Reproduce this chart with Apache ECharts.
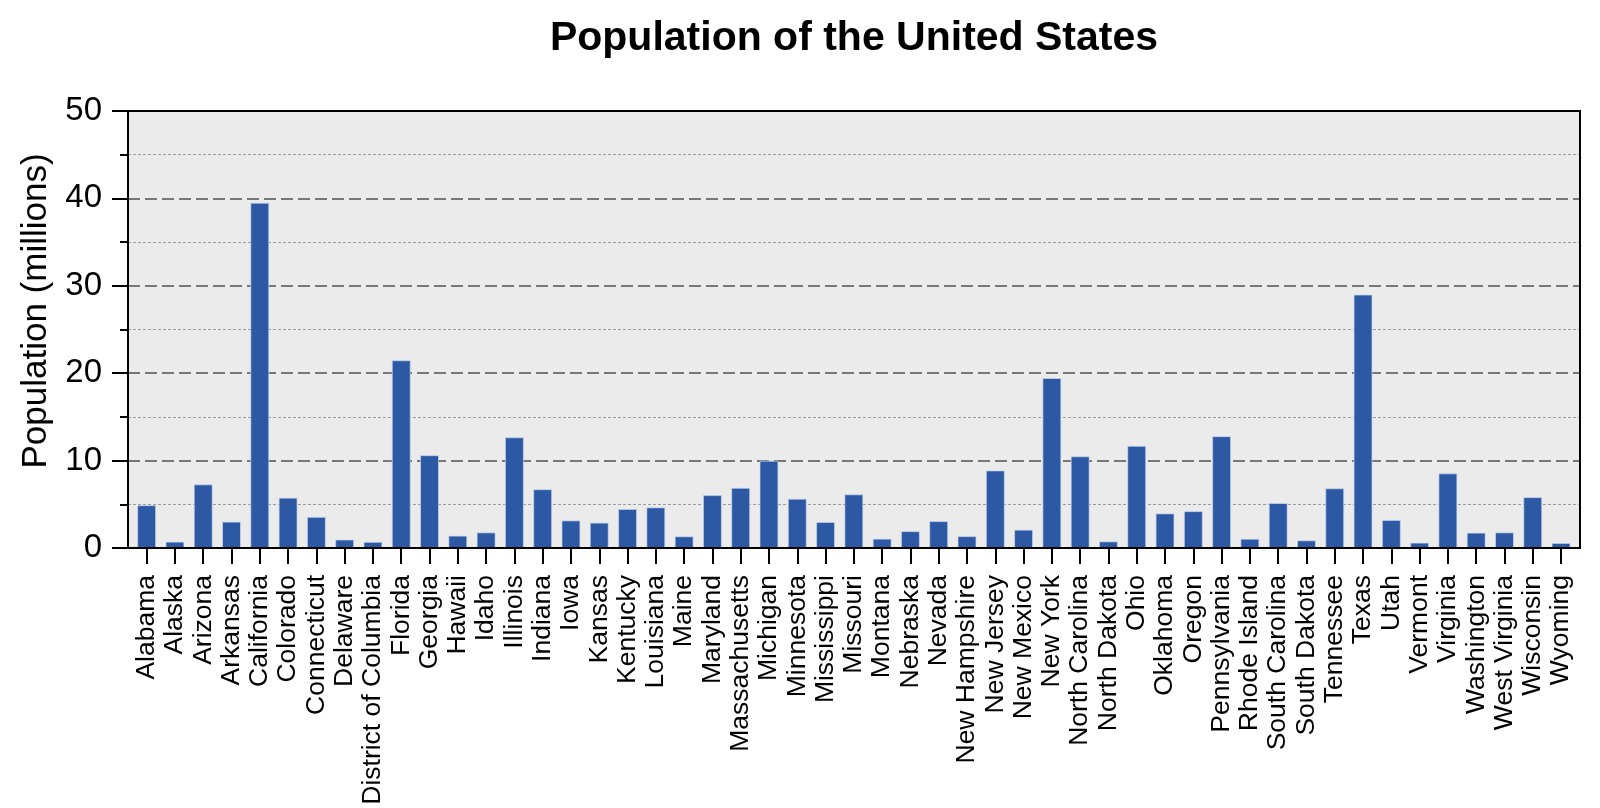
<!DOCTYPE html>
<html>
<head>
<meta charset="utf-8">
<script src="https://cdn.jsdelivr.net/npm/echarts@6/dist/echarts.min.js"></script>
<style>
html,body{margin:0;padding:0;background:#ffffff;}
#chart{width:1600px;height:808px;}
</style>
</head>
<body>
<div id="chart"></div>
<script>
const chartTitle = 'Population of the United States';
const yAxisTitle = 'Population (millions)';

const states = [
  'Alabama','Alaska','Arizona','Arkansas','California','Colorado','Connecticut','Delaware',
  'District of Columbia','Florida','Georgia','Hawaii','Idaho','Illinois','Indiana','Iowa',
  'Kansas','Kentucky','Louisiana','Maine','Maryland','Massachusetts','Michigan','Minnesota',
  'Mississippi','Missouri','Montana','Nebraska','Nevada','New Hampshire','New Jersey','New Mexico',
  'New York','North Carolina','North Dakota','Ohio','Oklahoma','Oregon','Pennsylvania','Rhode Island',
  'South Carolina','South Dakota','Tennessee','Texas','Utah','Vermont','Virginia','Washington',
  'West Virginia','Wisconsin','Wyoming'
];

const populationMillions = [
  4.90, 0.73, 7.28, 3.02, 39.51, 5.76, 3.57, 0.97,
  0.71, 21.48, 10.62, 1.42, 1.79, 12.67, 6.73, 3.16,
  2.91, 4.47, 4.65, 1.34, 6.05, 6.89, 9.99, 5.64,
  2.98, 6.14, 1.07, 1.93, 3.08, 1.36, 8.88, 2.10,
  19.45, 10.49, 0.76, 11.69, 3.96, 4.22, 12.80, 1.06,
  5.15, 0.88, 6.83, 29.00, 3.21, 0.62, 8.54, 1.76,
  1.79, 5.82, 0.58
];

const yMin = 0;
const yMax = 50;
const yMajorStep = 10;

const chart = echarts.init(document.getElementById('chart'), null, {renderer: 'canvas'});

const frame = {left: 128, right: 20, top: 111, bottom: 260};
const barsGrid = {left: 132.5, right: 24.8, top: 111, bottom: 260};

const option = {
  backgroundColor: '#ffffff',
  animation: false,
  graphic: [
    {
      type: 'text',
      x: 854, y: 39,
      z: 10,
      style: {
        text: chartTitle,
        font: 'bold 41px "Liberation Sans"',
        fill: '#000000',
        align: 'center',
        verticalAlign: 'middle'
      }
    },
    {
      type: 'text',
      x: 36, y: 311,
      rotation: Math.PI / 2,
      z: 10,
      style: {
        text: yAxisTitle,
        font: '35px "Liberation Sans"',
        fill: '#000000',
        align: 'center',
        verticalAlign: 'middle'
      }
    },
    {
      type: 'rect',
      z: 100,
      silent: true,
      shape: {x: frame.left, y: frame.top, width: 1600 - frame.left - frame.right, height: 808 - frame.top - frame.bottom},
      style: {fill: 'none', stroke: '#000000', lineWidth: 2}
    }
  ],
  grid: [
    Object.assign({
      show: true,
      backgroundColor: '#ebebeb',
      borderColor: '#000000',
      borderWidth: 0,
      containLabel: false,
      outerBoundsMode: 'none'
    }, frame),
    Object.assign({show: false, containLabel: false, outerBoundsMode: 'none'}, barsGrid)
  ],
  xAxis: [
    {gridIndex: 0, type: 'value', min: 0, max: 1, show: false},
    {
      gridIndex: 1,
      type: 'category',
      data: states,
      z: 5,
      axisLine: {show: true, onZero: false, lineStyle: {color: '#000000', width: 2}},
      axisTick: {show: true, alignWithLabel: true, length: 16, lineStyle: {color: '#000000', width: 2}},
      axisLabel: {
        interval: 0,
        rotate: 90,
        margin: 27,
        fontSize: 26.5,
        fontFamily: 'Liberation Sans',
        color: '#000000'
      },
      splitLine: {show: false}
    }
  ],
  yAxis: [
    {
      gridIndex: 0,
      type: 'value',
      min: yMin,
      max: yMax,
      interval: yMajorStep,
      axisLine: {show: true, lineStyle: {color: '#000000', width: 2}},
      axisTick: {show: true, length: 16, lineStyle: {color: '#000000', width: 2}},
      minorTick: {show: true, splitNumber: 2, length: 8, lineStyle: {color: '#000000', width: 2}},
      axisLabel: {
        margin: 26,
        fontSize: 33,
        fontFamily: 'Liberation Sans',
        color: '#000000'
      },
      splitLine: {show: true, showMinLine: false, showMaxLine: false, lineStyle: {color: '#777777', width: 2, type: [12, 5]}},
      minorSplitLine: {show: true, lineStyle: {color: '#9c9c9c', width: 1, type: [3, 2]}}
    },
    {gridIndex: 1, type: 'value', min: yMin, max: yMax, show: false}
  ],
  series: [
    {
      type: 'bar',
      xAxisIndex: 1,
      yAxisIndex: 1,
      data: populationMillions,
      barWidth: '67%',
      itemStyle: {
        color: '#2d58a3',
        borderColor: 'rgba(200,215,240,0.7)',
        borderWidth: 1
      }
    }
  ]
};

chart.setOption(option);
</script>
</body>
</html>
